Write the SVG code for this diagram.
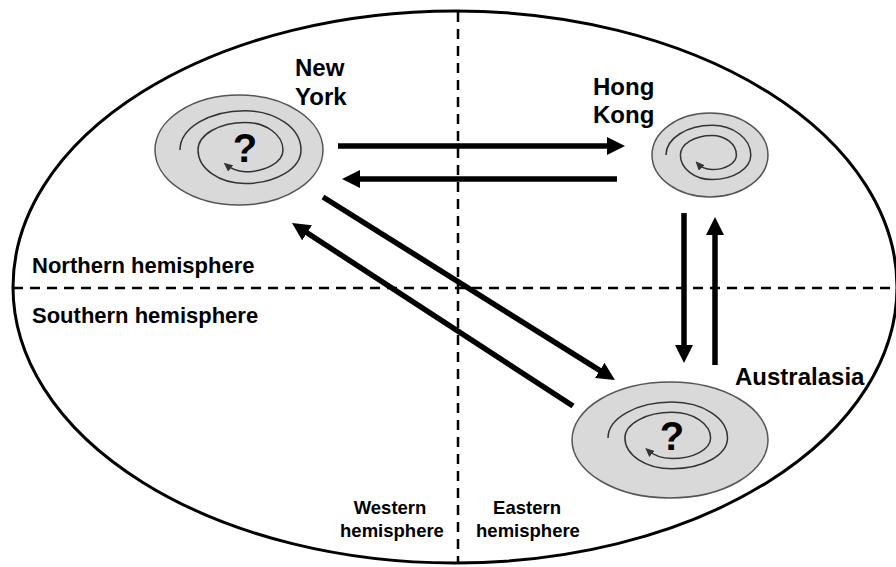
<svg xmlns="http://www.w3.org/2000/svg" width="896" height="567" viewBox="0 0 896 567">
  <style>
    .globe { fill: none; stroke: #000; stroke-width: 3; }
    .divider { fill: none; stroke: #000; stroke-width: 2.5; stroke-dasharray: 10 7; }
    .storm { fill: #d9d9d9; stroke: #555; stroke-width: 1.5; }
    .swirl { fill: none; stroke: #333; stroke-width: 1.5; marker-end: url(#swirlHead); }
    .flow { fill: none; stroke: #000; stroke-width: 5.5; marker-end: url(#head); }
    .lbl { font-family: "Liberation Sans", Arial, sans-serif; font-weight: bold; fill: #000; }
    .city { font-size: 24px; }
    .hemi { font-size: 22px; }
    .hemi-small { font-size: 18.5px; text-anchor: middle; }
    .q { font-size: 40px; text-anchor: middle; }
  </style>
  <defs>
    <marker id="head" markerUnits="userSpaceOnUse" markerWidth="18" markerHeight="18" viewBox="0 0 18 18" refX="8" refY="9" orient="auto">
      <path d="M0,0 L18,9 L0,18 z" fill="#000"/>
    </marker>
    <marker id="swirlHead" markerUnits="userSpaceOnUse" markerWidth="9" markerHeight="8" viewBox="0 0 9 8" refX="6" refY="4" orient="auto">
      <path d="M0,0 L9,4 L0,8 z" fill="#333"/>
    </marker>
  </defs>

  <!-- globe outline and hemisphere dividers -->
  <ellipse class="globe" cx="455" cy="287" rx="442" ry="276"/>
  <line class="divider" x1="458" y1="12" x2="458" y2="563"/>
  <line class="divider" x1="13" y1="288" x2="896" y2="288"/>

  <!-- hemisphere labels -->
  <text class="lbl hemi" x="32" y="273">Northern hemisphere</text>
  <text class="lbl hemi" x="32" y="323">Southern hemisphere</text>
  <text class="lbl hemi-small" x="390" y="514">Western</text>
  <text class="lbl hemi-small" x="392" y="537">hemisphere</text>
  <text class="lbl hemi-small" x="527" y="514">Eastern</text>
  <text class="lbl hemi-small" x="528" y="537">hemisphere</text>

  <g id="new-york">
    <ellipse class="storm" cx="239" cy="150" rx="84" ry="55"/>
    <path class="swirl" d="M180,150 A65,39.3 0 0 1 245,110.7 A56,39.3 0 0 1 301,150 A56,33.5 0 0 1 245,183.5 A47,33.5 0 0 1 198,150 A47,27.6 0 0 1 245,122.4 A38,27.6 0 0 1 283,150 A38,21.8 0 0 1 245,171.8 A30,21 0 0 1 226,164.6"/>
    <text class="lbl q" x="245" y="162">?</text>
    <text class="lbl city" x="295" y="76">New</text>
    <text class="lbl city" x="295" y="105">York</text>
  </g>

  <g id="hong-kong">
    <ellipse class="storm" cx="710" cy="155" rx="58" ry="42"/>
    <path class="swirl" d="M666,155 A46,29.7 0 0 1 712,125.3 A38.8,29.7 0 0 1 750.8,155 A38.8,24.6 0 0 1 712,179.6 A31.6,24.6 0 0 1 680.4,155 A31.6,19.6 0 0 1 712,135.4 A24.4,19.6 0 0 1 736.4,155 A24.4,14.6 0 0 1 712,169.6 A19,14 0 0 1 697.6,163.5"/>
    <text class="lbl city" x="593" y="95">Hong</text>
    <text class="lbl city" x="593" y="123">Kong</text>
  </g>

  <g id="australasia">
    <ellipse class="storm" cx="670" cy="440" rx="98" ry="58"/>
    <path class="swirl" d="M608,438 A64,35.9 0 0 1 672,402.1 A55.5,35.9 0 0 1 727.5,438 A55.5,30.8 0 0 1 672,468.8 A47.1,30.8 0 0 1 624.9,438 A47.1,25.7 0 0 1 672,412.3 A38.6,25.7 0 0 1 710.6,438 A38.6,20.6 0 0 1 672,458.6 A32,20 0 0 1 647.5,450"/>
    <text class="lbl q" x="672" y="450">?</text>
    <text class="lbl city" x="735" y="385">Australasia</text>
  </g>

  <g id="connectors">
    <line class="flow" x1="338" y1="146" x2="615" y2="146"/>
    <line class="flow" x1="617" y1="179" x2="352" y2="179"/>
    <line class="flow" x1="323" y1="197" x2="606.5" y2="374.7"/>
    <line class="flow" x1="573" y1="406" x2="300.4" y2="228.5"/>
    <line class="flow" x1="684" y1="213" x2="684" y2="353"/>
    <line class="flow" x1="715" y1="365" x2="715" y2="227"/>
  </g>
</svg>
